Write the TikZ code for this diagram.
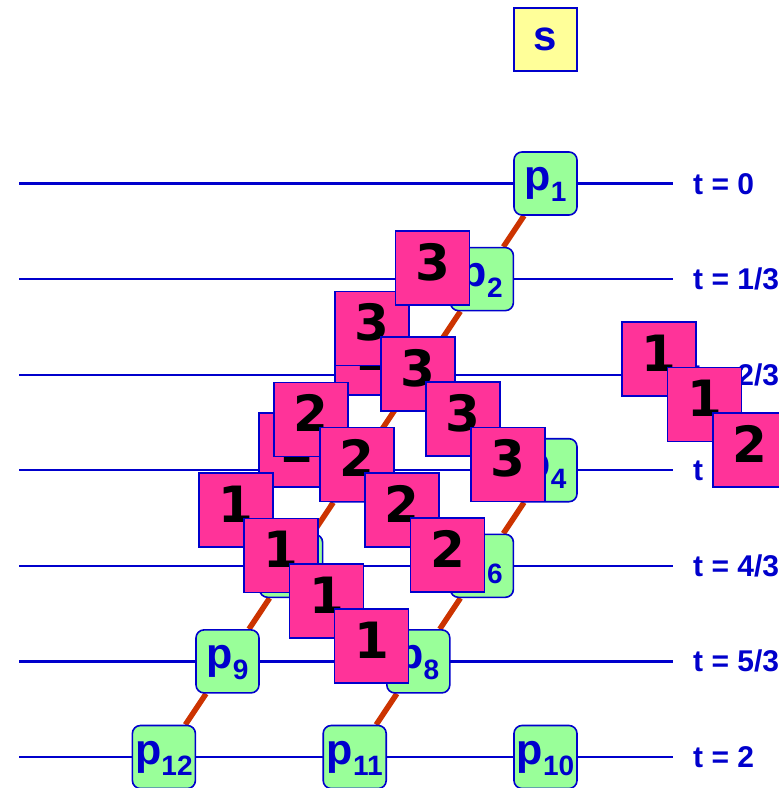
\documentclass[tikz,border=0pt]{standalone}
\usepackage{fontspec}
\setmainfont{Liberation Sans}
\newfontfamily\digitfont{DejaVu Sans}
\usetikzlibrary{backgrounds}
\definecolor{myblue}{RGB}{0,0,204}
\definecolor{mygreen}{RGB}{153,255,153}
\definecolor{myyellow}{RGB}{255,255,153}
\definecolor{mypink}{RGB}{255,51,153}
\definecolor{mydiag}{RGB}{204,51,0}
\newcommand{\plab}[1]{p\raisebox{-11pt}{\fontsize{28}{28}\selectfont #1}}
\begin{document}
\begin{tikzpicture}[x=1pt,y=-1pt,
  pnode/.style={draw=myblue, line width=1.6pt, fill=mygreen, rounded corners=8pt,
    minimum size=63pt, inner sep=0pt, text=myblue,
    font=\fontsize{43}{43}\selectfont\bfseries, text height=22pt, text depth=8pt},
  snode/.style={draw=myblue, line width=1.6pt, fill=myyellow,
    minimum size=63pt, inner sep=0pt, text=myblue,
    font=\fontsize{42}{42}\selectfont\bfseries},
  msg/.style={draw=myblue, line width=1.6pt, fill=mypink,
    minimum size=74pt, inner sep=0pt, text=black,
    font=\digitfont\bfseries\fontsize{50}{50}\selectfont, text height=36pt, text depth=12pt},
  tlab/.style={anchor=base west, text=myblue, inner sep=0pt,
    font=\fontsize{30}{30}\selectfont\bfseries},
  hline/.style={draw=myblue, line width=2.2pt},
  diag/.style={draw=mydiag, line width=5.5pt}]
\useasboundingbox (0,0) rectangle (779,788);
\clip (0,0) rectangle (779,788);

% timeline end points
\foreach \i/\y in {0/183.5,1/279.1,2/374.7,3/470.2,4/565.8,5/661.4,6/757}{
  \coordinate (L\i) at (19,\y);
  \coordinate (R\i) at (673,\y);
}

% nodes
\node[snode] (s) at (545.5,39.5) {s};
\node[pnode] (p1) at (545.5,183.5) {\plab{1}};
\node[pnode] (p2) at (481.9,279.1) {\plab{2}};
\node[pnode] (p3) at (418.3,374.7) {\plab{3}};
\node[pnode] (p4) at (545.5,470.2) {\plab{4}};
\node[pnode] (p5) at (354.7,470.2) {\plab{5}};
\node[pnode] (p6) at (481.9,565.8) {\plab{6}};
\node[pnode] (p7) at (291.1,565.8) {\plab{7}};
\node[pnode] (p8) at (418.3,661.4) {\plab{8}};
\node[pnode] (p9) at (227.5,661.4) {\plab{9}};
\node[pnode] (p10) at (545.5,757) {\plab{10}};
\node[pnode] (p11) at (354.7,757) {\plab{11}};
\node[pnode] (p12) at (163.9,757) {\plab{12}};

% time labels
\node[tlab] (t0) at (693,194) {t = 0};
\node[tlab] (t1) at (693,289.6) {t = 1/3};
\node[tlab] (t2) at (693,385.2) {t = 2/3};
\node[tlab] (t3) at (693,480.7) {t = 1};
\node[tlab] (t4) at (693,576.3) {t = 4/3};
\node[tlab] (t5) at (693,671.9) {t = 5/3};
\node[tlab] (t6) at (693,767.5) {t = 2};

\begin{scope}[on background layer]
  \foreach \i in {0,...,6}{ \draw[hline] (L\i) -- (R\i); }
  \draw[diag] (p1) -- (p2) -- (p3) -- (p5) -- (p7) -- (p9) -- (p12);
  \draw[diag] (p4) -- (p6) -- (p8) -- (p11);
\end{scope}

% messages
\node[msg] (mB) at (372,358) {1};
\node[msg] (mC) at (372,328.5) {3};
\node[msg] (mD) at (418,374) {3};
\node[msg] (mE) at (463,419) {3};
\node[msg] (mF) at (508,464.5) {3};
\node[msg] (mA) at (432.5,268) {3};
\node[msg] (mH) at (296,450) {1};
\node[msg] (mG) at (311,419.5) {2};
\node[msg] (mI) at (357,464.5) {2};
\node[msg] (mJ) at (402,510) {2};
\node[msg] (mK) at (447.5,555) {2};
\node[msg] (mL) at (236,510) {1};
\node[msg] (mM) at (281,555.5) {1};
\node[msg] (mN) at (326.5,601) {1};
\node[msg] (mO) at (371.5,646) {1};
\node[msg] (mP) at (659,359) {1};
\node[msg] (mQ) at (704.5,404.5) {1};
\node[msg] (mR) at (750,450) {2};
\end{tikzpicture}
\end{document}
